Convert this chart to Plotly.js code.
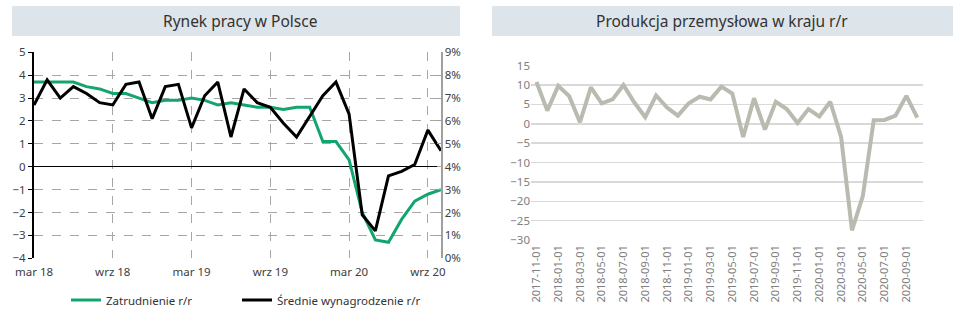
<!DOCTYPE html>
<html><head><meta charset="utf-8">
<script src="https://cdn.plot.ly/plotly-3.0.1.min.js"></script>
<style>html,body{margin:0;padding:0;background:#fff}#chart{width:965px;height:321px}</style>
</head><body><div id="chart"></div>
<script>
// Left chart: labour market
const labourMonths = ["2018-03","2018-04","2018-05","2018-06","2018-07","2018-08","2018-09","2018-10","2018-11","2018-12",
  "2019-01","2019-02","2019-03","2019-04","2019-05","2019-06","2019-07","2019-08","2019-09","2019-10","2019-11","2019-12",
  "2020-01","2020-02","2020-03","2020-04","2020-05","2020-06","2020-07","2020-08","2020-09","2020-10"];
const employment = [3.7,3.7,3.7,3.7,3.5,3.4,3.2,3.2,3.0,2.8,2.9,2.9,3.0,2.9,2.7,2.8,2.7,2.6,2.6,2.5,2.6,2.6,1.1,1.1,0.3,-2.0,-3.2,-3.3,-2.3,-1.5,-1.2,-1.0];
const wages = [6.7,7.8,7.0,7.5,7.2,6.8,6.7,7.6,7.7,6.1,7.5,7.6,5.7,7.1,7.7,5.3,7.4,6.8,6.6,5.9,5.3,6.2,7.1,7.7,6.3,1.9,1.2,3.6,3.8,4.1,5.6,4.7];
const labourTickVals = ["2018-03","2018-09","2019-03","2019-09","2020-03","2020-09"];
const labourTickText = ["mar 18","wrz 18","mar 19","wrz 19","mar 20","wrz 20"];

// Right chart: industrial production
const prodDates = ["2017-11-01","2017-12-01","2018-01-01","2018-02-01","2018-03-01","2018-04-01","2018-05-01","2018-06-01","2018-07-01","2018-08-01","2018-09-01","2018-10-01",
  "2018-11-01","2018-12-01","2019-01-01","2019-02-01","2019-03-01","2019-04-01","2019-05-01","2019-06-01","2019-07-01","2019-08-01","2019-09-01","2019-10-01",
  "2019-11-01","2019-12-01","2020-01-01","2020-02-01","2020-03-01","2020-04-01","2020-05-01","2020-06-01","2020-07-01","2020-08-01","2020-09-01","2020-10-01"];
const production = [10.8,3.4,9.8,7.2,0.4,9.4,5.3,6.3,10.0,5.5,1.7,7.3,4.2,2.1,5.3,7.0,6.3,9.6,7.8,-3.4,6.6,-1.5,5.7,3.8,0.2,3.8,1.9,5.7,-3.4,-27.5,-18.6,0.9,1.0,2.1,7.2,1.6];
const prodTickVals = prodDates.filter((d,i)=>i%2===0);

const titles = ["Rynek pracy w Polsce","Produkcja przemysłowa w kraju r/r"];
const seriesNames = ["Zatrudnienie r/r","Średnie wynagrodzenie r/r"];

const W=965,H=321;
const px = x=>x/W, py = y=>1-y/H;
const FONT = "Noto Sans, Open Sans, sans-serif";

const traces = [
  {x:labourMonths, y:employment, name:seriesNames[0], type:'scatter', mode:'lines',
   line:{color:'#13a56e', width:3}, xaxis:'x', yaxis:'y', legend:'legend'},
  {x:labourMonths, y:wages, name:seriesNames[1], type:'scatter', mode:'lines',
   line:{color:'#000000', width:3}, xaxis:'x', yaxis:'y2', legend:'legend2'},
  {x:prodDates, y:production, name:'Produkcja', type:'scatter', mode:'lines', showlegend:false,
   line:{color:'#b9bab0', width:4}, xaxis:'x3', yaxis:'y3'}
];

const legendBase = {orientation:'h', xanchor:'left', y:py(300), yanchor:'middle',
    font:{size:11.5, color:'#333'}, bgcolor:'rgba(0,0,0,0)', itemwidth:30};

const layout = {
  width:W, height:H, margin:{l:0,r:0,t:0,b:0},
  paper_bgcolor:'#fff', plot_bgcolor:'rgba(0,0,0,0)',
  font:{family:FONT, size:11, color:'#404040'},
  showlegend:true,
  legend:Object.assign({}, legendBase, {x:px(66)}),
  legend2:Object.assign({}, legendBase, {x:px(237)}),
  xaxis:{type:'category', domain:[px(34),px(441)], range:[0,31], anchor:'y',
    tickmode:'array', tickvals:labourTickVals, ticktext:labourTickText,
    showgrid:true, gridcolor:'#a6a6a6', griddash:'dash', gridwidth:1,
    ticks:'', ticklabelstandoff:5, showline:false, zeroline:false, tickfont:{size:11.5,color:'#404040'}},
  yaxis:{domain:[py(258.3),py(52.3)], range:[-4,5], dtick:1, anchor:'x',
    showgrid:true, gridcolor:'#a6a6a6', griddash:'dash', gridwidth:1,
    zeroline:true, zerolinecolor:'#000', zerolinewidth:1.5,
    showline:true, linecolor:'#000', linewidth:2, ticks:'outside', ticklen:4, tickcolor:'#000',
    tickfont:{size:11.5,color:'#404040'}},
  yaxis2:{overlaying:'y', side:'right', anchor:'x', range:[0,9], dtick:1, ticksuffix:'%',
    showgrid:false, zeroline:false, showline:true, linecolor:'#a0a0a0', linewidth:1.5,
    ticks:'inside', ticklen:4, tickcolor:'#a0a0a0', tickfont:{size:11.5,color:'#404040'}},
  xaxis3:{type:'category', domain:[px(531),px(922.7)], range:[-0.5,35.5], anchor:'y3',
    tickmode:'array', tickvals:prodTickVals, tickangle:-90, showgrid:false, zeroline:false,
    showline:false, ticks:'', ticklabelstandoff:2, tickfont:{size:11,color:'#808080'}},
  yaxis3:{domain:[py(240),py(65.7)], range:[-30,15], dtick:5, anchor:'x3',
    showgrid:true, gridcolor:'#d9d9d9', gridwidth:1.5, zeroline:true, zerolinecolor:'#d9d9d9', zerolinewidth:1.5,
    showline:false, ticks:'', tickfont:{size:11.5,color:'#808080'}},
  shapes:[
    {type:'rect', xref:'paper', yref:'paper', x0:px(12), x1:px(460), y0:py(36), y1:py(6), fillcolor:'#dde4ea', line:{width:0}, layer:'below'},
    {type:'rect', xref:'paper', yref:'paper', x0:px(492), x1:px(953), y0:py(36), y1:py(6), fillcolor:'#dde4ea', line:{width:0}, layer:'below'}
  ],
  annotations:[
    {text:titles[0], xref:'paper', yref:'paper', x:px(240), y:py(21), xanchor:'center', yanchor:'middle', showarrow:false, font:{size:15.5,color:'#333'}},
    {text:titles[1], xref:'paper', yref:'paper', x:px(722), y:py(21), xanchor:'center', yanchor:'middle', showarrow:false, font:{size:15.5,color:'#333'}}
  ]
};
Plotly.newPlot('chart', traces, layout, {staticPlot:true, displayModeBar:false});
</script>
</body></html>
